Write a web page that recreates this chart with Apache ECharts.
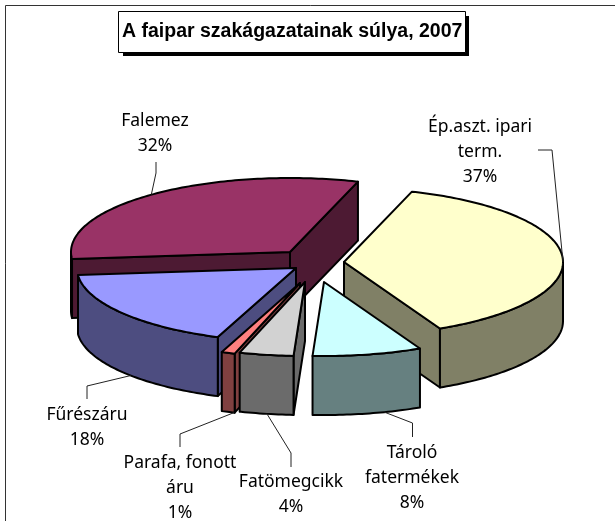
<!DOCTYPE html>
<html>
<head>
<meta charset="utf-8">
<title>A faipar szakágazatainak súlya, 2007</title>
<script src="https://cdn.jsdelivr.net/npm/echarts@6/dist/echarts.min.js"></script>
<style>
  html, body { margin: 0; padding: 0; background: #fff; }
  #chart { width: 615px; height: 521px; }
</style>
</head>
<body>
<div id="chart"></div>
<script>
// adatok
const titleText = 'A faipar szakágazatainak súlya, 2007'
const categories = ['Ép.aszt. ipari\nterm.', 'Tároló\nfatermékek', 'Fatömegcikk', 'Parafa, fonott\náru', 'Fűrészáru', 'Falemez']
const shares = [37, 8, 4, 1, 18, 32]

// szinek: felso lap, oldalfal
const topColors = ['#ffffcc', '#ccffff', '#d2d2d2', '#ff8080', '#9999ff', '#993366']
const wallColors = ['#808066', '#668080', '#6b6b6b', '#804040', '#4d4d80', '#4d1a33']

/* a torta geometriaja */
const pie = { cx: 312, cy: 266, rx: 219, ry: 74, depth: 59, firstAngle: 18, frontSkew: 3 }
// kirobbantas a kozeptol, pixelben
const explode = [[32, -4], [12, 16], [-7, 16], [-12, 17], [-16, 2], [-22, -14]]
// hatulrol elore rajzolas
const drawOrder = [5, 0, 4, 3, 2, 1]
// feliratok: kozeppont, elso sor y, vezetovonal torespontjai
const labelLayout = [
  { x: 480, y: 127, line: [[538, 150], [552, 150]], rim: 90 },
  { x: 412, y: 453, line: [[412.5, 437], [412.5, 423]], rim: 164 },
  { x: 291, y: 482, line: [[291, 467], [291, 453]], rim: 190 },
  { x: 180, y: 463, line: [[180, 447], [180, 434]], rim: 197.5 },
  { x: 87, y: 415, line: [[87, 399], [87, 386]], rim: 229 },
  { x: 155, y: 121, line: [[156, 162], [156, 173]], rim: 320.7 }
]
const labelFont = '17.5px "Noto Sans"'

const total = shares.reduce((a, b) => a + b, 0)
const startAngles = []
let running = pie.firstAngle
shares.forEach(v => {
  startAngles.push(running)
  running += (v / total) * 360
})

// perspektiva: az elulso szeleknel az ivet kicsit eltoljuk
function skewed(deg) {
  return deg + (pie.frontSkew * (1 - Math.cos((deg * Math.PI) / 180))) / 2
}

function rimPoint(i, deg, drop) {
  const r = (deg * Math.PI) / 180
  return [
    pie.cx + explode[i][0] + pie.rx * Math.sin(r),
    pie.cy + explode[i][1] - pie.ry * Math.cos(r) + (drop || 0)
  ]
}

function arcPoints(i, from, to, drop) {
  const pts = []
  for (let d = from; d < to; d += 1) pts.push(rimPoint(i, d, drop))
  pts.push(rimPoint(i, to, drop))
  return pts
}

function face(points, fill) {
  return {
    type: 'polygon',
    shape: { points },
    style: { fill, stroke: '#000', lineWidth: 2, lineJoin: 'round' }
  }
}

function renderSlice(params, api) {
  const i = drawOrder[params.dataIndex]
  const a = skewed(startAngles[i])
  const b = skewed(startAngles[i] + (api.value(0) / total) * 360)
  const c = [pie.cx + explode[i][0], pie.cy + explode[i][1]]
  const cLow = [c[0], c[1] + pie.depth]
  const children = []

  // vagott oldalak, ha a nezo fele nez
  if (Math.sin((a * Math.PI) / 180) < 0) {
    children.push(face([c, rimPoint(i, a), rimPoint(i, a, pie.depth), cLow], wallColors[i]))
  }
  if (Math.sin((b * Math.PI) / 180) > 0) {
    children.push(face([c, rimPoint(i, b), rimPoint(i, b, pie.depth), cLow], wallColors[i]))
  }
  // kulso iv
  const from = Math.max(a, 90)
  const to = Math.min(b, 270)
  if (to > from) {
    const upper = arcPoints(i, from, to, 0)
    const lower = arcPoints(i, from, to, pie.depth).reverse()
    children.push(face(upper.concat(lower), wallColors[i]))
  }
  // felso lap
  children.push(face([c].concat(arcPoints(i, a, b, 0)), topColors[i]))

  // vezetovonal es felirat
  const lay = labelLayout[i]
  const rimDeg = lay.rim
  const onWall = rimDeg > 90 && rimDeg < 270
  children.push({
    type: 'polyline',
    shape: { points: lay.line.concat([rimPoint(i, rimDeg, onWall ? pie.depth : 0)]) },
    style: { stroke: '#222', lineWidth: 1, fill: null }
  })
  children.push({
    type: 'text',
    style: {
      text: categories[i] + '\n' + api.value(0) + '%',
      x: lay.x,
      y: lay.y - 12.5,
      font: labelFont,
      lineHeight: 25,
      fill: '#000',
      align: 'center',
      verticalAlign: 'top'
    }
  })
  return { type: 'group', children }
}

const chart = echarts.init(document.getElementById('chart'), null, { renderer: 'canvas' })
chart.setOption({
  animation: false,
  backgroundColor: '#fff',
  title: {
    text: titleText,
    left: 118,
    top: 11,
    padding: [11, 3, 11, 4],
    backgroundColor: '#fff',
    borderColor: '#000',
    borderWidth: 1,
    textStyle: {
      fontFamily: '"Liberation Sans"',
      fontWeight: 'bold',
      fontSize: 19.5,
      color: '#000'
    }
  },
  graphic: [
    {
      type: 'polyline',
      silent: true,
      shape: { points: [[5.5, 521], [5.5, 5.5], [615, 5.5]] },
      style: { stroke: '#333', lineWidth: 1, fill: null }
    },
    {
      // a cimdoboz arnyeka
      type: 'rect',
      silent: true,
      shape: { x: 123, y: 16, width: 346, height: 40 },
      style: { fill: '#000' },
      z: 1
    }
  ],
  series: [
    {
      type: 'custom',
      coordinateSystem: 'none',
      renderItem: renderSlice,
      silent: true,
      clip: false,
      data: drawOrder.map(i => ({ name: categories[i], value: [shares[i]] }))
    }
  ]
})
</script>
</body>
</html>
